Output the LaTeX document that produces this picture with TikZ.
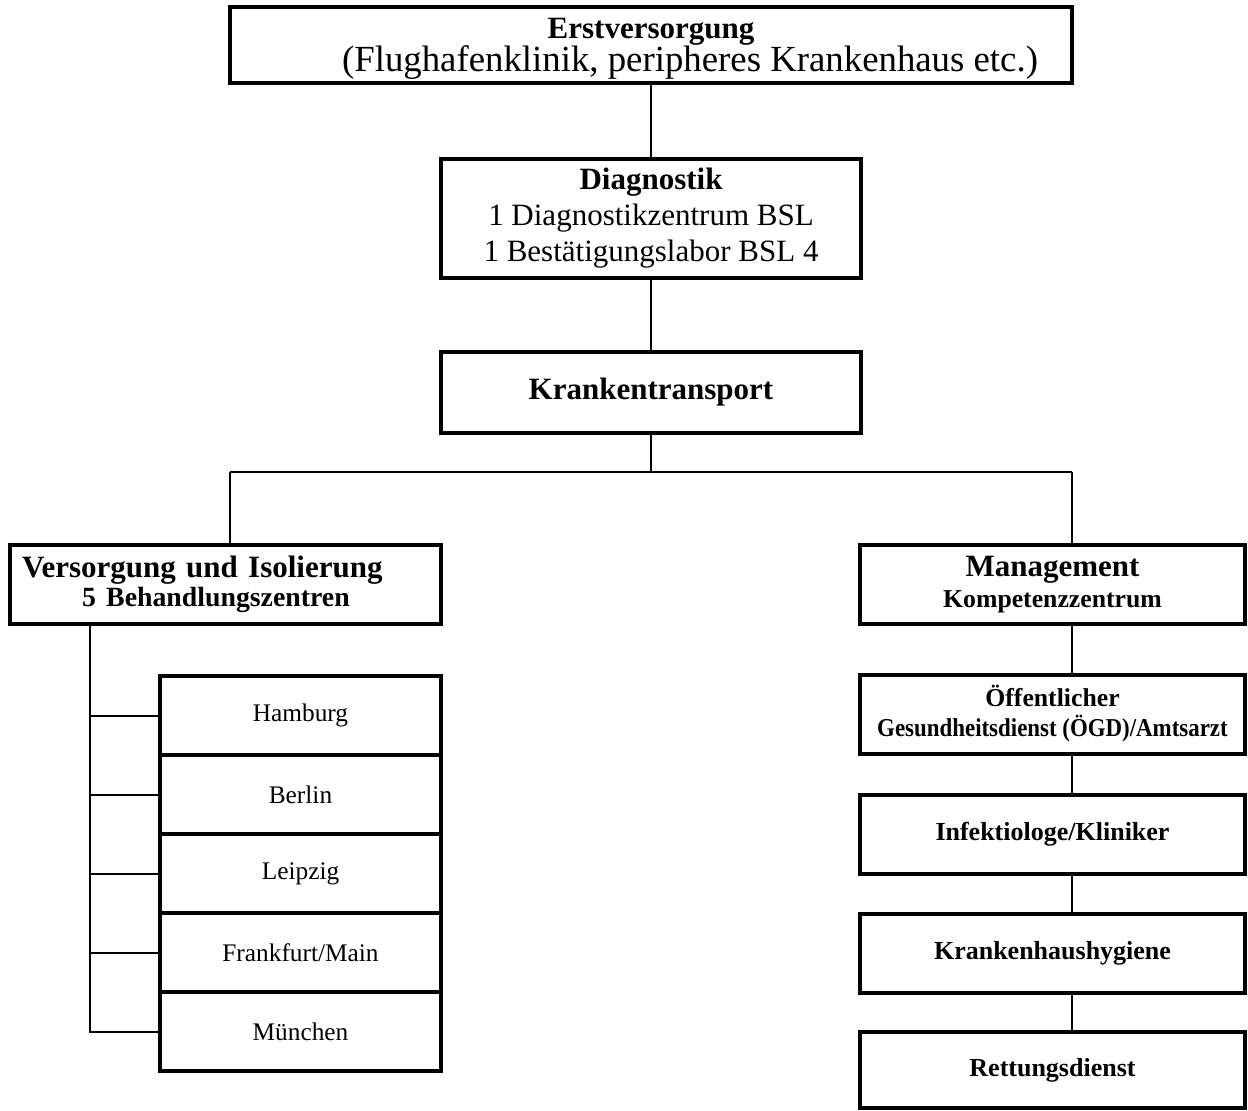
\documentclass[tikz,border=0pt]{standalone}
\usepackage{fontspec}
\usepackage{graphicx}
\setmainfont{Liberation Serif}
\usetikzlibrary{positioning}
\tikzset{
  kasten/.style={
    rectangle,
    draw=black, line width=3pt,
    inner sep=0pt,
    align=center},
  gross/.style={font=\fontsize{23.25}{27}\selectfont},
  klein/.style={font=\fontsize{19.5}{22.5}\selectfont\bfseries},
  stadt/.style={
    kasten,
    minimum width=210.75pt,
    minimum height=59.25pt,
    font=\fontsize{19}{22}\selectfont},
  rechts/.style={
    kasten, klein,
    minimum width=288.75pt,
    minimum height=59.25pt},
  line/.style={draw, line width=1.5pt},
}

\begin{document}
\begin{tikzpicture}[x=0.75pt, y=-0.75pt]
  \useasboundingbox (0,0) rectangle (1248,1110);

  \node[kasten, minimum width=631.5pt, minimum height=57pt,
    font=\fontsize{23.25}{24.75}\selectfont] (erst) at (651,45)
    {\rule{0pt}{21.5pt}\textbf{Erstversorgung}\\\hspace*{58.5pt}{\fontsize{27.6}{30}\selectfont (Flughafenklinik, peripheres Krankenhaus etc.)}};
  \node[kasten, gross, minimum width=315pt, minimum height=89.25pt] (diag) at (651,218.5)
    {\textbf{Diagnostik}\\1 Diagnostikzentrum BSL\\1 Bestätigungslabor BSL 4};
  \node[kasten, gross, minimum width=315pt, minimum height=60.75pt] (trans) at (651,392.5)
    {\textbf{Krankentransport}};

  \node[kasten, minimum height=59.25pt, text width=305.25pt, inner xsep=9pt, align=left,
    font=\fontsize{23.25}{21.75}\selectfont\bfseries] (vers) at (225.5,584.5)
    {Versorgung und Isolierung\\\hspace*{45pt}{\fontsize{20.85}{21.75}\selectfont 5 Behandlungszentren}};
  \node[kasten, minimum width=288.75pt, minimum height=59.25pt,
    font=\fontsize{23.25}{23.25}\selectfont\bfseries] (mgmt) at (1052.5,584.5)
    {Management\\{\fontsize{19.3}{23.25}\selectfont Kompetenzzentrum}};

  \foreach \city [count=\i] in {Hamburg, Berlin, Leipzig, Frankfurt/Main, München}
    \node[stadt] (city\i) at (300.5,{636.5+79*\i}) {\city};

  \node[rechts, font=\fontsize{19.3}{22.5}\selectfont\bfseries] (oegd) at (1052.5,714)
    {Öffentlicher\\\scalebox{0.89}[1]{Gesundheitsdienst (ÖGD)/Amtsarzt}};
  \node[rechts] (infekt) at (1052.5,834) {Infektiologe/Kliniker};
  \node[rechts] (hygiene) at (1052.5,953) {Krankenhaushygiene};
  \node[rechts, minimum height=57pt] (rett) at (1052.5,1070) {Rettungsdienst};

  \coordinate (busL) at (230,472);
  \coordinate (busR) at (1072,472);
  \coordinate (spine) at (90,0);

  \draw[line] (erst) -- (diag);
  \draw[line] (diag) -- (trans);
  \draw[line] (trans.south) -- (trans.south |- busL);
  \draw[line] (busL) -- (busR);
  \draw[line] (busL) -- (busL |- vers.north);
  \draw[line] (busR) -- (busR |- mgmt.north);
  \foreach \a/\b in {mgmt/oegd, oegd/infekt, infekt/hygiene, hygiene/rett}
    \draw[line] (busR |- \a.south) -- (busR |- \b.north);

  \draw[line] (vers.south -| spine) |- (city5.west);
  \foreach \i in {1,...,4}
    \draw[line] (spine |- city\i.west) -- (city\i.west);
\end{tikzpicture}
\end{document}
